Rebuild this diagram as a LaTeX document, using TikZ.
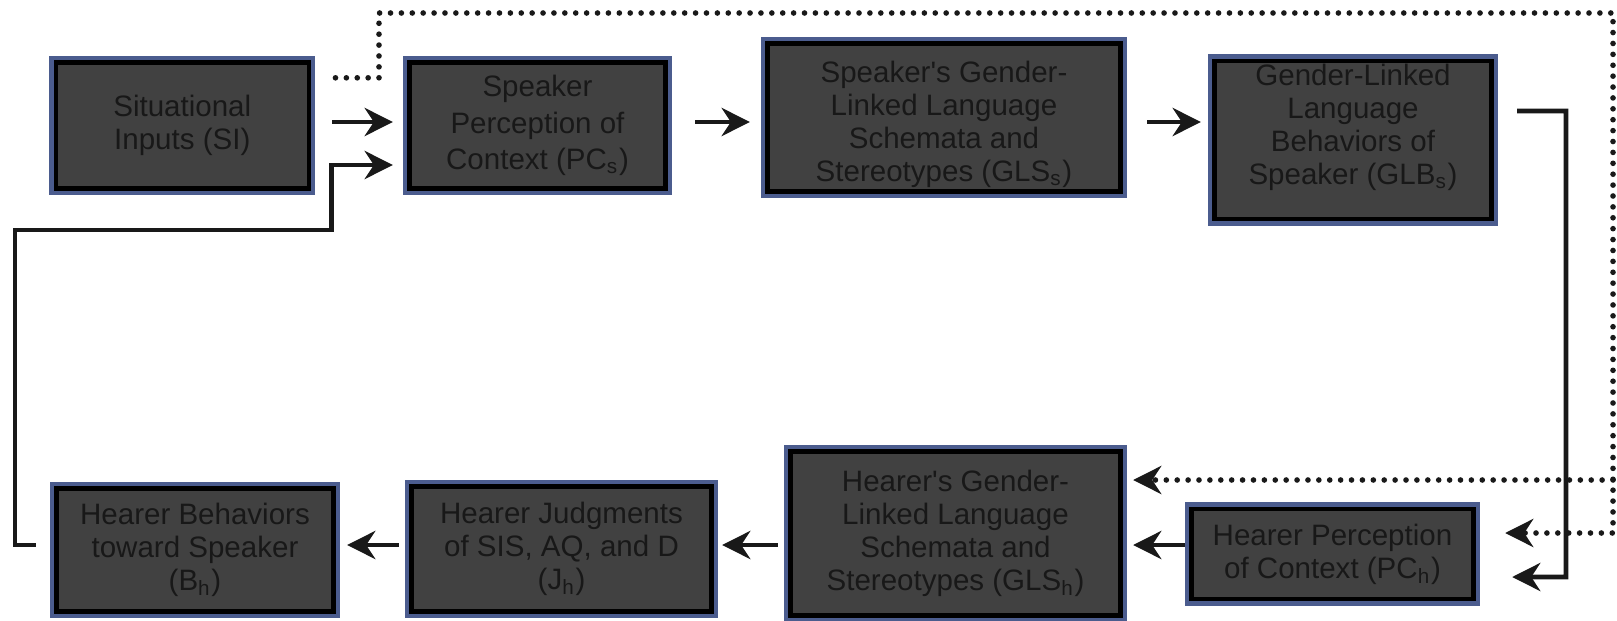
\documentclass[tikz,border=0pt]{standalone}
\usepackage{fontspec}
\setmainfont{Liberation Sans}
\usetikzlibrary{arrows.meta,calc}

\definecolor{boxgray}{HTML}{414141}
\definecolor{boxblue}{HTML}{4B5C8E}
\definecolor{txtgray}{HTML}{181818}

\tikzset{
  box/.style={draw=black, line width=1.2pt, fill=boxgray, text=txtgray,
    align=center, inner sep=1pt, outer sep=1.9pt,
    font=\fontsize{8.4}{9.4}\selectfont,
    preaction={draw=boxblue, line width=3.8pt}},
  arr/.style={-{Stealth[length=8pt,width=8pt,inset=2.6pt]}, line width=1.4pt, draw=black!90},
  dots/.style={line width=1.6pt, line cap=round, dash pattern=on 0pt off 3.1pt},
}

\begin{document}
\begin{tikzpicture}

\useasboundingbox (0,0) rectangle (16.17,6.2);

%%%%%%%%%%%%%%%%%%%%%%%%%%%%%%% speaker side
\node[box, minimum width=2.53cm, minimum height=1.26cm] (SI) at (1.823,4.945)
  {Situational\\Inputs (SI)};
\node[box, minimum width=2.56cm, minimum height=1.26cm, font=\fontsize{8.4}{10.4}\selectfont] (PCs) at (5.375,4.945)
  {Speaker\\Perception of\\Context (PC\textsubscript{s})};
\node[box, minimum width=3.53cm, minimum height=1.44cm] (GLSs) at (9.44,5.025)
  {\rule{0pt}{10.2pt}Speaker\textquotesingle s Gender-\\Linked Language\\Schemata and\\Stereotypes (GLS\textsubscript{s})};
\node[box, minimum width=2.77cm, minimum height=1.31cm, text depth=0.31cm] (GLBs) at (13.53,4.80)
  {Gender-Linked\\Language\\Behaviors of\\Speaker (GLB\textsubscript{s})};

%%%%%%%%%%%%%%%%%%%%%%%%%%%%%%% hearer side
\node[box, minimum width=2.82cm, minimum height=0.90cm] (PCh) at (13.325,0.66)
  {Hearer Perception\\of Context (PC\textsubscript{h})};
\node[box, minimum width=3.30cm, minimum height=1.64cm] (GLSh) at (9.555,0.865)
  {Hearer\textquotesingle s Gender-\\Linked Language\\Schemata and\\Stereotypes (GLS\textsubscript{h})};
\node[box, minimum width=3.0cm, minimum height=1.25cm] (Jh) at (5.615,0.71)
  {Hearer Judgments\\of SIS, AQ, and D\\(J\textsubscript{h})};
\node[box, minimum width=2.77cm, minimum height=1.23cm] (Bh) at (1.95,0.70)
  {Hearer Behaviors\\toward Speaker\\(B\textsubscript{h})};

%%%%%%%%%%%%%%%%%%%%%%%%%%%%%%% arrows along the rows
\draw[arr, shorten <=0.17cm, shorten >=0.1cm] ([yshift=0.035cm]SI.east) -- ([yshift=0.035cm]PCs.west);
\draw[arr, shorten <=0.23cm, shorten >=0.11cm] ([yshift=0.035cm]PCs.east) -- ([yshift=0.035cm]PCs.east -| GLSs.west);
\draw[arr, shorten <=0.2cm, shorten >=0.07cm] ([yshift=-0.045cm]GLSs.east) -- ([yshift=-0.045cm]GLSs.east -| GLBs.west);

\draw[arr, shorten >=0.06cm] ([yshift=0.09cm]PCh.west) -- ([yshift=0.09cm]PCh.west -| GLSh.east);
\draw[arr, shorten <=0.06cm, shorten >=0.04cm] ([yshift=0.09cm]PCh.west -| GLSh.west) -- ([yshift=0.09cm]PCh.west -| Jh.east);
\draw[arr, shorten <=0.06cm, shorten >=0.07cm] ([yshift=0.09cm]PCh.west -| Jh.west) -- ([yshift=0.09cm]PCh.west -| Bh.east);

%%%%%%%%%%%%%%%%%%%%%%%%%%%%%%% loops
\coordinate (loopL) at (0.15,3.90);
\coordinate (loopR) at (3.317,4.55);
\draw[arr] ([xshift=-0.14cm,yshift=0.05cm]Bh.west) -| (loopL) -| (loopR)
  -- ([xshift=-0.1cm,yshift=-0.395cm]PCs.west);

\coordinate (turnR) at (15.66,0.43);
\draw[arr] ([xshift=0.19cm,yshift=0.29cm]GLBs.east) -| (turnR)
  -- ([xshift=0.32cm,yshift=-0.23cm]PCh.east);

\coordinate (dotL) at (3.79,6.07);
\coordinate (dotR) at (16.13,6.07);
\coordinate (dotB) at (16.13,1.40);
\draw[arr, dots] ([xshift=0.2cm,yshift=-0.22cm]SI.north east) -| (dotL) -- (dotR)
  |- ([xshift=0.25cm,yshift=0.21cm]PCh.east);
\draw[arr, dots] (dotB) -- ([xshift=0.06cm,yshift=0.535cm]GLSh.east);

\end{tikzpicture}
\end{document}
